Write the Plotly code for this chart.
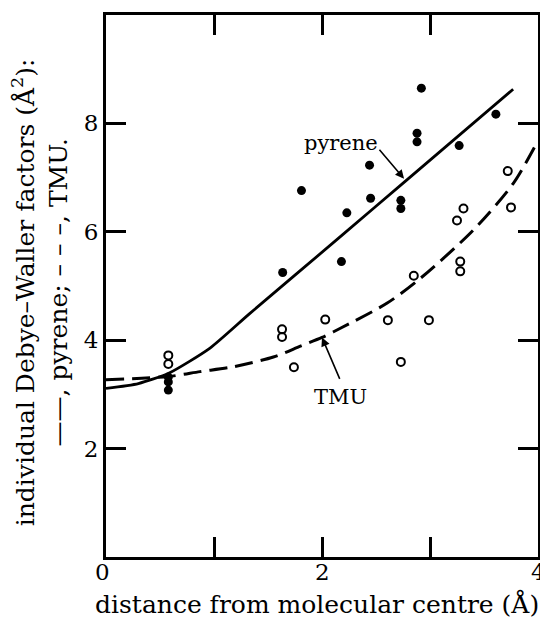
import plotly.graph_objects as go

# Individual Debye-Waller factors vs. distance from the molecular centre
pyrene_x = [0.577, 0.577, 0.577, 1.636, 1.81, 2.18, 2.23, 2.44, 2.45, 2.73, 2.73, 2.88, 2.88, 2.92, 3.27, 3.61]
pyrene_y = [3.08, 3.23, 3.32, 5.25, 6.76, 5.45, 6.35, 7.23, 6.62, 6.58, 6.43, 7.82, 7.66, 8.65, 7.59, 8.17]

tmu_x = [0.577, 0.577, 1.63, 1.63, 1.74, 2.03, 2.61, 2.73, 2.85, 2.99, 3.25, 3.28, 3.28, 3.31, 3.72, 3.75]
tmu_y = [3.72, 3.56, 4.20, 4.06, 3.50, 4.38, 4.37, 3.60, 5.19, 4.37, 6.21, 5.45, 5.27, 6.43, 7.12, 6.45]

# smooth curves drawn through the two sets
pyrene_curve_x = [0.0, 0.3, 0.58, 0.96, 1.33, 2.17, 2.77, 3.77]
pyrene_curve_y = [3.11, 3.20, 3.39, 3.85, 4.49, 5.91, 6.93, 8.63]

tmu_curve_x = [0.0, 0.58, 0.87, 1.18, 1.55, 1.8, 2.0, 2.17, 2.6, 2.91, 3.4, 3.77, 4.0]
tmu_curve_y = [3.27, 3.33, 3.42, 3.51, 3.69, 3.89, 4.05, 4.22, 4.68, 5.14, 6.03, 6.89, 7.68]

x_ticks = [0, 1, 2, 3, 4]
x_labels = {0: "0", 2: "2", 4: "4"}
y_ticks = [0, 2, 4, 6, 8, 10]
y_ticktext = ["", "2", "4", "6", "8", ""]

FONT = "DejaVu Serif"
INK = "black"

fig = go.Figure()

fig.add_trace(go.Scatter(x=pyrene_curve_x, y=pyrene_curve_y, mode="lines",
                         line=dict(color=INK, width=2.8, shape="spline", smoothing=0.6),
                         showlegend=False, hoverinfo="skip"))
fig.add_trace(go.Scatter(x=tmu_curve_x, y=tmu_curve_y, mode="lines",
                         line=dict(color=INK, width=3, dash="18px,8px", shape="spline", smoothing=0.8),
                         showlegend=False, hoverinfo="skip"))

fig.add_trace(go.Scatter(x=pyrene_x, y=pyrene_y, mode="markers", name="pyrene",
                         marker=dict(symbol="circle", size=9, color=INK), showlegend=False))
fig.add_trace(go.Scatter(x=tmu_x, y=tmu_y, mode="markers", name="TMU",
                         marker=dict(symbol="circle-open", size=8, color=INK, line=dict(width=2)),
                         showlegend=False))

# x tick labels are placed just under the frame as annotations below
fig.update_xaxes(
    range=[0, 4], tickmode="array", tickvals=x_ticks, showticklabels=False,
    ticks="inside", ticklen=20, tickwidth=3, tickcolor=INK,
    showline=True, linewidth=3, linecolor=INK, mirror="ticks",
    showgrid=False, zeroline=False, automargin=False,
)
fig.update_yaxes(
    range=[0, 10], tickmode="array", tickvals=y_ticks, ticktext=y_ticktext,
    ticks="inside", ticklen=20, tickwidth=3, tickcolor=INK,
    showline=True, linewidth=3, linecolor=INK, mirror="ticks",
    showgrid=False, zeroline=False, automargin=False,
    tickfont=dict(family=FONT, size=23, color=INK), ticklabelstandoff=0,
)

annotations = []
for xv, lab in x_labels.items():
    annotations.append(dict(x=xv, y=-0.0273, xref="x", yref="paper", text=lab,
                            showarrow=False, xanchor="center", yanchor="middle",
                            xshift=-4 if xv == 0 else 0,
                            font=dict(family=FONT, size=23, color=INK)))

annotations += [
    # curve labels
    dict(x=2.176, y=7.64, xref="x", yref="y", text="pyrene", showarrow=False,
         font=dict(family=FONT, size=21, color=INK)),
    dict(x=2.76, y=6.98, ax=2.52, ay=7.54, xref="x", yref="y", axref="x", ayref="y",
         text="", showarrow=True, arrowhead=2, arrowsize=1.1, arrowwidth=1.6,
         arrowcolor=INK, standoff=0, startstandoff=0),
    dict(x=2.167, y=2.95, xref="x", yref="y", text="TMU", showarrow=False,
         font=dict(family=FONT, size=21, color=INK)),
    dict(x=2.0, y=4.05, ax=2.17, ay=3.26, xref="x", yref="y", axref="x", ayref="y",
         text="", showarrow=True, arrowhead=2, arrowsize=1.1, arrowwidth=1.6,
         arrowcolor=INK, standoff=0, startstandoff=0),
    # axis titles
    dict(x=0.488, y=-0.086, xref="paper", yref="paper",
         text="distance from molecular centre (Å)", showarrow=False,
         xanchor="center", yanchor="middle",
         font=dict(family=FONT, size=25, color=INK)),
    dict(x=-0.189, y=0.489, xref="paper", yref="paper", textangle=-90,
         text="individual Debye–Waller factors (Å<sup>2</sup>):", showarrow=False,
         xanchor="center", yanchor="middle",
         font=dict(family=FONT, size=25, color=INK)),
    dict(x=-0.110, y=0.489, xref="paper", yref="paper", textangle=-90,
         text="——, pyrene; – – –, TMU.", showarrow=False,
         xanchor="center", yanchor="middle",
         font=dict(family=FONT, size=25, color=INK)),
]

fig.update_layout(
    width=540, height=617, template="none",
    margin=dict(l=106, r=2, t=15, b=60, pad=0),
    paper_bgcolor="white", plot_bgcolor="white",
    annotations=annotations,
)

fig.write_html("out.html")
